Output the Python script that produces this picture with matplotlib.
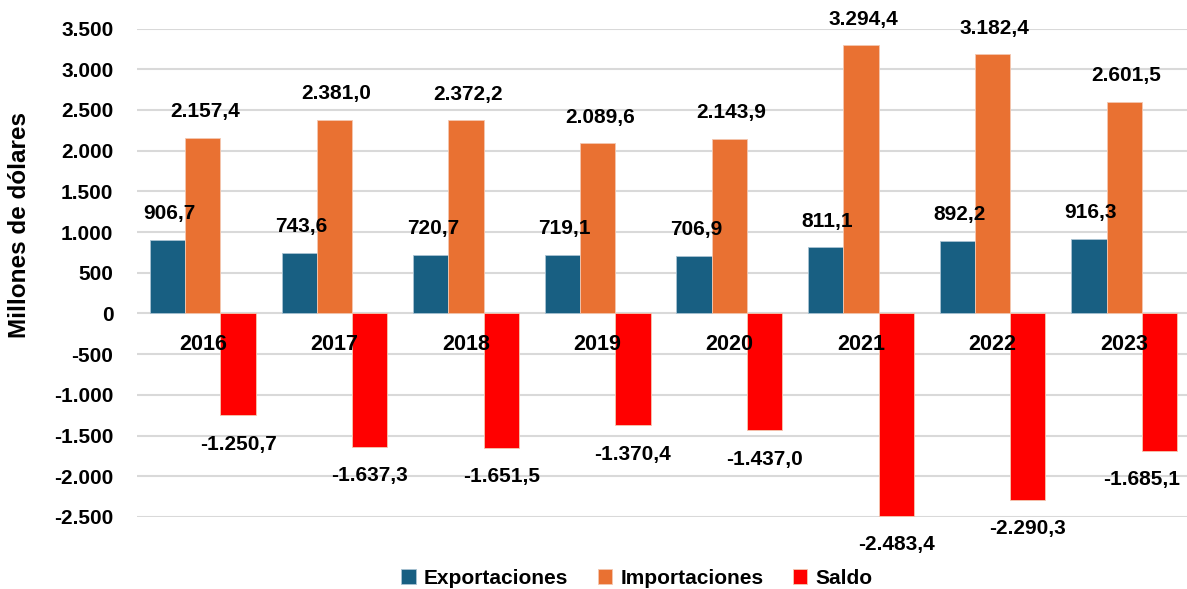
import numpy as np
import matplotlib.pyplot as plt
from matplotlib import font_manager

years = ['2016', '2017', '2018', '2019', '2020', '2021', '2022', '2023']
exportaciones = [906.7, 743.6, 720.7, 719.1, 706.9, 811.1, 892.2, 916.3]
importaciones = [2157.4, 2381.0, 2372.2, 2089.6, 2143.9, 3294.4, 3182.4, 2601.5]
saldo = [-1250.7, -1637.3, -1651.5, -1370.4, -1437.0, -2483.4, -2290.3, -1685.1]
series_names = ['Exportaciones', 'Importaciones', 'Saldo']
colors = ['#185F82', '#E97132', '#FF0000']

names = {f.name for f in font_manager.fontManager.ttflist}
narrow = 'Liberation Sans Narrow' if 'Liberation Sans Narrow' in names else 'Liberation Sans'
plt.rcParams['font.family'] = ['Liberation Sans', 'DejaVu Sans']


def fmt(v):
    s = f'{abs(v):,.1f}'.replace(',', 'X').replace('.', ',').replace('X', '.')
    return ('-' if v < 0 else '') + s


def fmt_tick(v, pos=None):
    s = f'{abs(v):,.0f}'.replace(',', '.')
    return ('-' if v < 0 else '') + s


fig = plt.figure(figsize=(11.87, 5.89), dpi=100)
ax = fig.add_axes([137 / 1187, 72 / 589, 1053 / 1187, 488.5 / 589])

x = np.arange(len(years))
w = 0.268
for i, (vals, name, c) in enumerate(zip([exportaciones, importaciones, saldo], series_names, colors)):
    pos = x + (i - 1) * w
    ax.bar(pos, vals, w, color=c, label=name, edgecolor='#F4C7B0' if i else '#A9C3D3',
           linewidth=0.6, zorder=3)
    for j, (px, v) in enumerate(zip(pos, vals)):
        if v >= 0:
            ax.annotate(fmt(v), (px, v), xytext=(2, 26), textcoords='offset pixels',
                        ha='center', va='center', fontsize=15, fontweight='bold', zorder=6)
        else:
            # last label is pushed left to stay inside the chart
            dx = -18 if j == len(vals) - 1 else 0
            ax.annotate(fmt(v), (px, v), xytext=(dx, -29), textcoords='offset pixels',
                        ha='center', va='center', fontsize=15, fontweight='bold', zorder=6)

for xi, yr in zip(x, years):
    ax.annotate(yr, (xi, 0), xytext=(0, -31), textcoords='offset pixels',
                ha='center', va='center', fontsize=15.5, fontweight='bold', zorder=6)

ax.set_xlim(-0.5, len(years) - 0.5)
ax.set_ylim(-2500, 3500)
ax.set_yticks(np.arange(-2500, 3501, 500))
ax.yaxis.set_major_formatter(plt.FuncFormatter(fmt_tick))
ax.set_xticks([])
ax.tick_params(axis='y', length=0, pad=17, labelsize=15)
for lab in ax.get_yticklabels():
    lab.set_fontweight('bold')
ax.grid(axis='y', color='#D9D9D9', linewidth=1.5, zorder=0)
for s in ax.spines.values():
    s.set_visible(False)

fig.text(20 / 1187, 1 - 225 / 589, 'Millones de dólares', rotation=90, ha='center', va='center',
         fontsize=17.5, fontweight='bold', family=[narrow, 'DejaVu Sans'])

fig.legend(loc='center', bbox_to_anchor=(637 / 1187, 1 - 578 / 589), ncol=3, frameon=False,
           prop={'family': [narrow, 'DejaVu Sans'], 'weight': 'bold', 'size': 15},
           handlelength=0.7, handleheight=0.7, handletextpad=0.4, columnspacing=1.4)

fig.savefig('out.png', dpi=100)
